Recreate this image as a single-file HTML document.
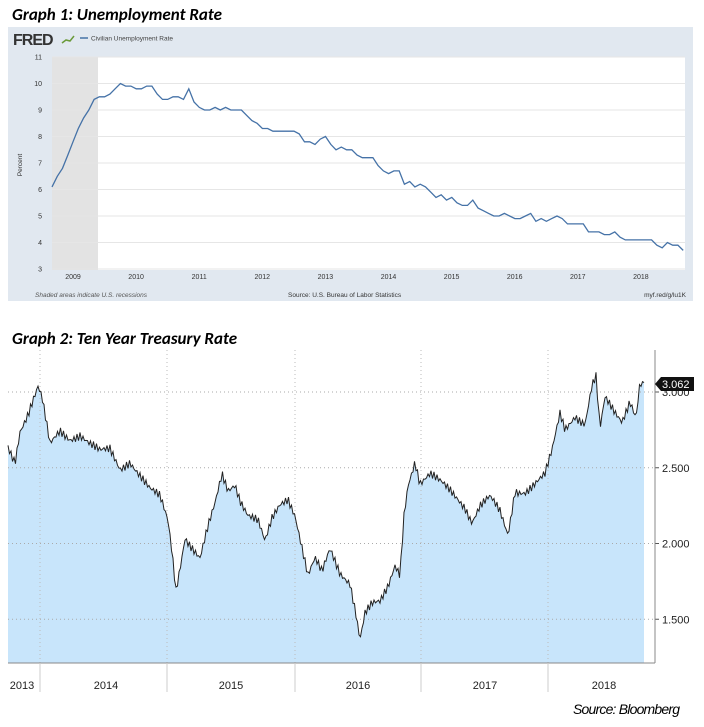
<!DOCTYPE html>
<html><head><meta charset="utf-8"><style>
body{margin:0;width:704px;height:727px;background:#fff;overflow:hidden;font-family:"Liberation Sans",sans-serif}
.t{position:absolute;font-family:Calibri,"Carlito","Liberation Sans",sans-serif;font-weight:bold;font-style:italic;font-size:17px;color:#000}
</style></head><body>
<div class="t" style="left:12px;top:4px">Graph 1: Unemployment Rate</div>
<div class="t" style="left:12px;top:328px">Graph 2: Ten Year Treasury Rate</div>
<svg id="s" width="704" height="727" style="position:absolute;left:0;top:0"></svg>
<div style="position:absolute;left:573px;top:701px;font-style:italic;font-size:14px;letter-spacing:-0.8px">Source: Bloomberg</div>
<script>
var s='';
s+='<rect x="8" y="27" width="685" height="274" fill="#e1e8f0"/>';
s+='<text x="13" y="45" font-size="16" font-weight="bold" fill="#333" font-family="Liberation Sans" letter-spacing="-1">FRED</text>';
s+='<polyline points="62,43 66,40 70,41 74,36" stroke="#6a9a3a" fill="none" stroke-width="1.5"/>';
s+='<line x1="80" y1="38" x2="88" y2="38" stroke="#4572a7" stroke-width="1.5"/>';
s+='<text x="91" y="40.5" font-size="6.5" fill="#444">Civilian Unemployment Rate</text>';
s+='<rect x="52" y="57" width="633" height="213" fill="#fff"/>';
s+='<rect x="52" y="57" width="46" height="213" fill="#e3e3e3"/>';
for(var v=3;v<=11;v++){var y=269-(v-3)*26.5;
 s+='<line x1="52" x2="685" y1="'+y+'" y2="'+y+'" stroke="#e6e6e6"/>';
 s+='<text x="42" y="'+(y+2.5)+'" font-size="7" fill="#333" text-anchor="end">'+v+'</text>';}
s+='<text x="22" y="165" font-size="6.5" fill="#333" transform="rotate(-90 22 165)" text-anchor="middle">Percent</text>';
for(var i=0;i<10;i++){s+='<text x="'+(73+i*63.1)+'" y="279" font-size="7" fill="#333" text-anchor="middle">'+(2009+i)+'</text>';}
s+='<text x="35" y="297" font-size="6.5" font-style="italic" fill="#555">Shaded areas indicate U.S. recessions</text>';
s+='<text x="288" y="297" font-size="6.5" fill="#333">Source: U.S. Bureau of Labor Statistics</text>';
s+='<text x="686" y="297" font-size="6.5" fill="#333" text-anchor="end">myf.red/g/lu1K</text>';
var u=[6.1,6.5,6.8,7.3,7.8,8.3,8.7,9.0,9.4,9.5,9.5,9.6,9.8,10.0,9.9,9.9,9.8,9.8,9.9,9.9,9.6,9.4,9.4,9.5,9.5,9.4,9.8,9.3,9.1,9.0,9.0,9.1,9.0,9.1,9.0,9.0,9.0,8.8,8.6,8.5,8.3,8.3,8.2,8.2,8.2,8.2,8.2,8.1,7.8,7.8,7.7,7.9,8.0,7.7,7.5,7.6,7.5,7.5,7.3,7.2,7.2,7.2,6.9,6.7,6.6,6.7,6.7,6.2,6.3,6.1,6.2,6.1,5.9,5.7,5.8,5.6,5.7,5.5,5.4,5.4,5.6,5.3,5.2,5.1,5.0,5.0,5.1,5.0,4.9,4.9,5.0,5.1,4.8,4.9,4.8,4.9,5.0,4.9,4.7,4.7,4.7,4.7,4.4,4.4,4.4,4.3,4.3,4.4,4.2,4.1,4.1,4.1,4.1,4.1,4.1,3.9,3.8,4.0,3.9,3.9,3.7];
var p=[];for(var i=0;i<u.length;i++){p.push((52+i*5.26).toFixed(1)+','+(269-(u[i]-3)*26.5).toFixed(1));}
s+='<polyline points="'+p.join(' ')+'" fill="none" stroke="#4572a7" stroke-width="1.3"/>';
var k=[[8,2.65],[15,2.55],[20,2.75],[28,2.85],[38,3.02],[42,2.95],[50,2.65],[60,2.75],[70,2.7],[80,2.72],[90,2.65],[100,2.6],[110,2.62],[120,2.5],[130,2.55],[140,2.45],[150,2.35],[160,2.3],[168,2.15],[172,1.95],[176,1.7],[180,1.85],[185,2.05],[190,2.0],[195,1.95],[200,1.9],[208,2.1],[215,2.25],[222,2.45],[228,2.35],[235,2.4],[240,2.3],[248,2.2],[258,2.15],[265,2.0],[272,2.15],[280,2.25],[288,2.3],[295,2.2],[300,2.05],[308,1.8],[315,1.9],[322,1.8],[330,1.95],[340,1.8],[350,1.75],[356,1.55],[360,1.38],[365,1.55],[372,1.6],[380,1.6],[388,1.7],[395,1.85],[400,1.8],[404,2.2],[408,2.4],[415,2.55],[420,2.4],[430,2.45],[440,2.4],[450,2.35],[458,2.3],[465,2.25],[472,2.15],[480,2.25],[490,2.3],[500,2.2],[508,2.05],[515,2.35],[525,2.35],[535,2.4],[545,2.45],[552,2.6],[560,2.85],[565,2.75],[575,2.85],[585,2.8],[592,3.05],[596,3.1],[600,2.75],[605,2.95],[615,2.85],[622,2.8],[630,2.95],[636,2.85],[640,3.08],[644,3.062]];
function Y(v){return 392+(3-v)*151.5;}
var pts=[],j=0;
for(var x=8;x<=644;x+=1.5){while(j<k.length-2&&k[j+1][0]<x)j++;var a=k[j],b=k[j+1];var f=(x-a[0])/(b[0]-a[0]);var v=a[1]+(b[1]-a[1])*f;
 if(x<642)v+=0.025*Math.sin(x*1.9)+0.02*Math.sin(x*4.3+1);pts.push(x+','+Y(v).toFixed(1));}
s+='<polygon points="8,663 '+pts.join(' ')+' 644,663" fill="#c8e5fb"/>';
[40,167,295,421,548].forEach(function(x){s+='<line x1="'+x+'" x2="'+x+'" y1="350" y2="663" stroke="#bbb" stroke-dasharray="1,3"/>';});
[3,2.5,2,1.5].forEach(function(v){var y=Y(v);s+='<line x1="8" x2="655" y1="'+y+'" y2="'+y+'" stroke="#aaa" stroke-dasharray="1,3"/><line x1="655" x2="659" y1="'+y+'" y2="'+y+'" stroke="#555"/><text x="662" y="'+(y+4)+'" font-size="11" fill="#222">'+v.toFixed(3)+'</text>';});
s+='<polyline points="'+pts.join(' ')+'" fill="none" stroke="#222" stroke-width="1"/>';
s+='<line x1="655" x2="655" y1="350" y2="663" stroke="#888"/>';
s+='<line x1="8" x2="655" y1="663" y2="663" stroke="#888"/>';
s+='<path d="M655 384 L661 377 H694 V391 H661 Z" fill="#111"/><text x="662" y="388" font-size="11" fill="#fff">3.062</text>';
[40,167,295,421,548].forEach(function(x){s+='<line x1="'+x+'" x2="'+x+'" y1="663" y2="692" stroke="#ccc"/>';});
[[22,'2013'],[106,'2014'],[231,'2015'],[358,'2016'],[485,'2017'],[604,'2018']].forEach(function(d){s+='<text x="'+d[0]+'" y="689" font-size="11" fill="#222" text-anchor="middle">'+d[1]+'</text>';});
document.getElementById('s').innerHTML=s;
</script>
</body></html>
